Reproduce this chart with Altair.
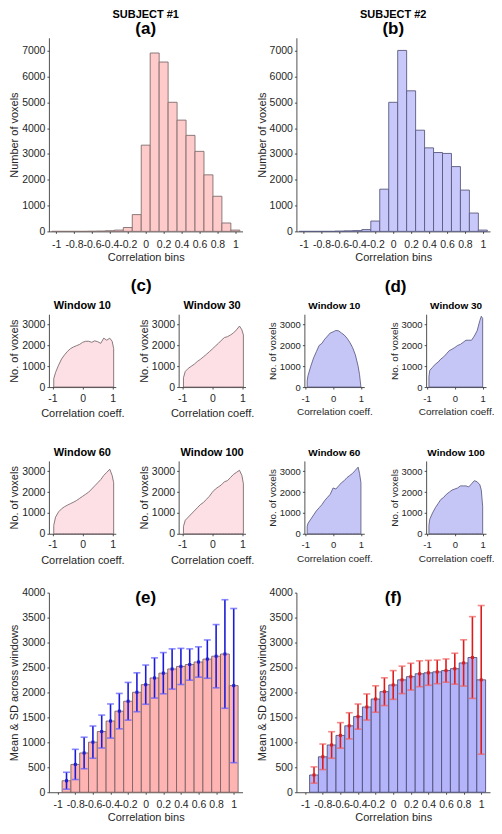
import altair as alt
import pandas as pd

FONT = "Liberation Sans"
INK = "#262626"

# ---------- (a)/(b) histograms ----------
HIST_BINS = [-1.0, -0.9, -0.8, -0.7, -0.6, -0.5, -0.4, -0.3, -0.2, -0.1, 0.0,
             0.1, 0.2, 0.3, 0.4, 0.5, 0.6, 0.7, 0.8, 0.9, 1.0]
HIST_S1 = [0, 0, 0, 0, 5, 10, 25, 50, 150, 650, 3340,
           6910, 6560, 5000, 4310, 3720, 3100, 2190, 1360, 325, 50]
HIST_S2 = [0, 0, 0, 0, 10, 20, 30, 70, 400, 1635, 5000,
           7010, 5445, 3920, 3235, 3055, 3020, 2510, 1600, 710, 50]

# ---------- (c)/(d) window distributions ----------
X_C = [-0.96, -0.9, -0.8, -0.7, -0.6, -0.5, -0.4, -0.3, -0.2, -0.1, 0.0,
       0.1, 0.2, 0.3, 0.4, 0.5, 0.6, 0.7, 0.8, 0.9, 0.98, 1.03]
C_W10 = [400, 700, 1050, 1350, 1550, 1720, 1850, 1930, 1990, 2050, 2150,
         2200, 2200, 2150, 2220, 2180, 2100, 2350, 2250, 2350, 2200, 1850]
C_W30 = [450, 750, 900, 1000, 1100, 1230, 1330, 1450, 1570, 1700, 1830,
         1970, 2100, 2250, 2380, 2420, 2500, 2600, 2750, 2930, 2750, 2500]
C_W60 = [400, 800, 1050, 1200, 1300, 1380, 1450, 1520, 1600, 1700, 1800,
         1900, 2000, 2150, 2300, 2450, 2600, 2800, 2950, 3100, 2800, 2450]
C_W100 = [350, 650, 800, 950, 1100, 1250, 1400, 1500, 1650, 1800, 2000,
          2150, 2250, 2350, 2500, 2550, 2700, 2850, 2950, 3050, 2800, 2400]

X_D = [-0.93, -0.9, -0.8, -0.7, -0.6, -0.5, -0.4, -0.3, -0.2, -0.1, 0.0,
       0.1, 0.2, 0.3, 0.4, 0.5, 0.6, 0.7, 0.8, 0.9, 0.95, 1.0]
D_W10 = [300, 550, 1000, 1400, 1700, 2000, 2100, 2300, 2450, 2600, 2650,
         2720, 2700, 2600, 2500, 2350, 2150, 1900, 1550, 1000, 600, 0]
D_W30 = [500, 800, 950, 1100, 1200, 1350, 1450, 1600, 1750, 1820, 1900,
         2000, 2050, 2150, 2250, 2250, 2250, 2450, 2700, 3200, 3400, 3300]
D_W60 = [350, 500, 700, 900, 1100, 1250, 1400, 1600, 1750, 1900, 2200,
         2150, 2300, 2450, 2550, 2700, 2800, 2900, 3050, 3200, 2900, 2450]
D_W100 = [400, 700, 1000, 1250, 1450, 1650, 1750, 1900, 2000, 2100, 2150,
          2200, 2300, 2300, 2300, 2250, 2400, 2550, 2500, 2350, 2100, 1300]

# ---------- (e)/(f) mean & SD across windows ----------
E_BINS = [-0.9, -0.8, -0.7, -0.6, -0.5, -0.4, -0.3, -0.2, -0.1, 0.0,
          0.1, 0.2, 0.3, 0.4, 0.5, 0.6, 0.7, 0.8, 0.9, 1.0]
E_MEAN = [230, 557, 787, 1004, 1216, 1427, 1625, 1823, 2003, 2156,
          2290, 2386, 2470, 2521, 2559, 2610, 2668, 2726, 2770, 2137]
E_SD = [170, 303, 316, 323, 330, 342, 355, 378, 390, 393,
        403, 413, 403, 362, 314, 304, 384, 634, 1088, 1545]
F_MEAN = [345, 710, 947, 1139, 1331, 1516, 1708, 1868, 2015, 2150,
          2252, 2316, 2374, 2393, 2412, 2438, 2476, 2591, 2700, 2252]
F_SD = [163, 256, 266, 256, 262, 252, 262, 265, 278, 288,
        275, 268, 259, 250, 237, 233, 310, 464, 819, 1490]

BIG_X_TICKS = [-1, -0.8, -0.6, -0.4, -0.2, 0, 0.2, 0.4, 0.6, 0.8, 1]
HIST_Y_TICKS = [0, 1000, 2000, 3000, 4000, 5000, 6000, 7000]
SMALL_Y_TICKS = [0, 1000, 2000, 3000]
SMALL_X_TICKS = [-1, 0, 1]
E_Y_TICKS = [0, 500, 1000, 1500, 2000, 2500, 3000, 3500, 4000]

LABEL_EXPR = "'' + round(datum.value*10)/10"


def xaxis(vals, title, fs=10.5, tfs=11, lp=5, tp=2):
    return alt.Axis(values=vals, labelExpr=LABEL_EXPR, title=title,
                    labelOverlap=False, labelFlush=False, labelFontSize=fs,
                    titleFontSize=tfs, tickSize=2, labelPadding=lp,
                    titlePadding=tp, grid=False)


def yaxis(vals, title, fs=10.5, tfs=11):
    return alt.Axis(values=vals, format="d", title=title, labelFontSize=fs,
                    titleFontSize=tfs, tickSize=2, labelPadding=2,
                    titlePadding=2, grid=False, labelOverlap=False)


def hist_panel(counts, fill, stroke, head, sub, w, h):
    df = pd.DataFrame({"c": HIST_BINS, "n": counts})
    return (
        alt.Chart(df)
        .transform_calculate(lo="datum.c - 0.05", hi="datum.c + 0.05")
        .mark_bar(fill=fill, stroke=stroke, strokeWidth=0.9)
        .encode(
            x=alt.X("lo:Q", scale=alt.Scale(domain=[-1.08, 1.08], nice=False, zero=False),
                    axis=xaxis(BIG_X_TICKS, "Correlation bins", lp=6, tp=2)),
            x2="hi:Q",
            y=alt.Y("n:Q", scale=alt.Scale(domain=[0, 7500], nice=False),
                    axis=yaxis(HIST_Y_TICKS, "Number of voxels")),
            y2=alt.datum(0),
        )
        .properties(
            width=w, height=h,
            title=alt.Title(head, subtitle=sub, font=FONT, fontSize=11, fontWeight="bold",
                            subtitleFont=FONT, subtitleFontSize=17, subtitleFontWeight="bold",
                            subtitleColor="black", color="black", subtitlePadding=1,
                            offset=1, anchor="middle"),
        )
    )


def small_panel(xs, ys, head, fill, stroke, w, h, fs, tfs, hfs, dom):
    df = pd.DataFrame({"x": xs, "y": ys})
    return (
        alt.Chart(df)
        .mark_area(fill=fill, stroke=stroke, strokeWidth=0.8, fillOpacity=1)
        .encode(
            x=alt.X("x:Q", scale=alt.Scale(domain=dom, nice=False, zero=False),
                    axis=xaxis(SMALL_X_TICKS, "Correlation coeff.", fs, tfs, lp=4, tp=4)),
            y=alt.Y("y:Q", scale=alt.Scale(domain=[0, 3500], nice=False),
                    axis=yaxis(SMALL_Y_TICKS, "No. of voxels", fs, tfs)),
        )
        .properties(width=w, height=h,
                    title=alt.Title(head, font=FONT, fontSize=hfs, fontWeight="bold",
                                    color="black", offset=3, anchor="middle"))
    )


def err_panel(means, sds, bar_fill, bar_stroke, line_col, cap_col, head, w, h):
    df = pd.DataFrame({"c": E_BINS, "m": means, "s": sds})
    base = alt.Chart(df).transform_calculate(
        lo="datum.c - 0.05", hi="datum.c + 0.05",
        top="datum.m + datum.s", bot="datum.m - datum.s")
    xs = alt.Scale(domain=[-1.1, 1.1], nice=False, zero=False)
    ys = alt.Scale(domain=[0, 4000], nice=False)
    xa = xaxis(BIG_X_TICKS, "Correlation bins", lp=5, tp=2)
    ya = yaxis(E_Y_TICKS, "Mean & SD across windows")
    bars = base.mark_bar(fill=bar_fill, stroke=bar_stroke, strokeWidth=0.9).encode(
        x=alt.X("lo:Q", scale=xs, axis=xa),
        x2="hi:Q",
        y=alt.Y("m:Q", scale=ys, axis=ya),
        y2=alt.datum(0),
    )
    rules = base.mark_rule(color=line_col, strokeWidth=1.6).encode(
        x=alt.X("c:Q", scale=xs, axis=xa),
        y=alt.Y("bot:Q", scale=ys, axis=ya), y2="top:Q")
    cap_top = base.mark_tick(color=cap_col, orient="horizontal", size=7, thickness=1.6).encode(
        x=alt.X("c:Q", scale=xs, axis=xa), y=alt.Y("top:Q", scale=ys, axis=ya))
    cap_bot = base.mark_tick(color=cap_col, orient="horizontal", size=7, thickness=1.6).encode(
        x=alt.X("c:Q", scale=xs, axis=xa), y=alt.Y("bot:Q", scale=ys, axis=ya))
    pts = base.mark_square(color=line_col, size=9, filled=True, opacity=1).encode(
        x=alt.X("c:Q", scale=xs, axis=xa), y=alt.Y("m:Q", scale=ys, axis=ya))
    return alt.layer(bars, rules, cap_top, cap_bot, pts).properties(
        width=w, height=h,
        title=alt.Title(head, font=FONT, fontSize=17, fontWeight="bold", color="black",
                        offset=-19, anchor="middle"))


BW, BH = 194, 194
EH = 200
CW, DW, SH = 67, 60, 73

pa = hist_panel(HIST_S1, "#ffcaca", "#806e6e", "SUBJECT #1", "(a)", BW, BH)
pb = hist_panel(HIST_S2, "#c8c8fb", "#5a5a80", "SUBJECT #2", "(b)", BW, BH)

C_FILL, C_STROKE = "#fde0e5", "#6d5c5f"
D_FILL, D_STROKE = "#c6c6f6", "#50507a"
CDOM = [-1.12, 1.1]
DDOM = [-1.03, 1.12]

pc = alt.vconcat(
    alt.hconcat(
        small_panel(X_C, C_W10, "Window 10", C_FILL, C_STROKE, CW, SH, 10.5, 11, 11, CDOM),
        small_panel(X_C, C_W30, "Window 30", C_FILL, C_STROKE, CW, SH, 10.5, 11, 11, CDOM),
        spacing=63, bounds="flush"),
    alt.hconcat(
        small_panel(X_C, C_W60, "Window 60", C_FILL, C_STROKE, CW, SH, 10.5, 11, 11, CDOM),
        small_panel(X_C, C_W100, "Window 100", C_FILL, C_STROKE, CW, SH, 10.5, 11, 11, CDOM),
        spacing=63, bounds="flush"),
    spacing=28,
).properties(title=alt.Title("(c)", font=FONT, fontSize=17, fontWeight="bold",
                             color="black", anchor="middle", offset=5, dx=10))

pd_ = alt.vconcat(
    alt.hconcat(
        small_panel(X_D, D_W10, "Window 10", D_FILL, D_STROKE, DW, SH, 9.5, 10, 10, DDOM),
        small_panel(X_D, D_W30, "Window 30", D_FILL, D_STROKE, DW, SH, 9.5, 10, 10, DDOM),
        spacing=62, bounds="flush"),
    alt.hconcat(
        small_panel(X_D, D_W60, "Window 60", D_FILL, D_STROKE, DW, SH, 9.5, 10, 10, DDOM),
        small_panel(X_D, D_W100, "Window 100", D_FILL, D_STROKE, DW, SH, 9.5, 10, 10, DDOM),
        spacing=62, bounds="flush"),
    spacing=31,
).properties(title=alt.Title("(d)", font=FONT, fontSize=17, fontWeight="bold",
                             color="black", anchor="middle", offset=5, dx=15))

pe = err_panel(E_MEAN, E_SD, "#ffb4b4", "#7a6464", "#1c1cd6", "#5a5aff", "(e)", BW, EH)
pf = err_panel(F_MEAN, F_SD, "#b4b4fa", "#50507a", "#dc1c1c", "#f05a5a", "(f)", BW, EH)

row1 = alt.hconcat(pa, pb, spacing=54, bounds="flush")
row2 = alt.hconcat(pc, pd_, spacing=12)
row3 = alt.hconcat(pe, pf, spacing=54, bounds="flush")

chart = (
    alt.vconcat(
        row1,
        alt.vconcat(row2, row3, spacing=22),
        spacing=14,
    )
    .properties(padding=0)
    .configure_view(stroke=None)
    .configure_axis(labelFont=FONT, titleFont=FONT, labelColor=INK, titleColor=INK,
                    domainColor=INK, tickColor=INK, titleFontWeight="normal",
                    domainWidth=0.8, tickWidth=0.8)
)

chart.save("out.html", embed_options={"renderer": "svg", "actions": False})
